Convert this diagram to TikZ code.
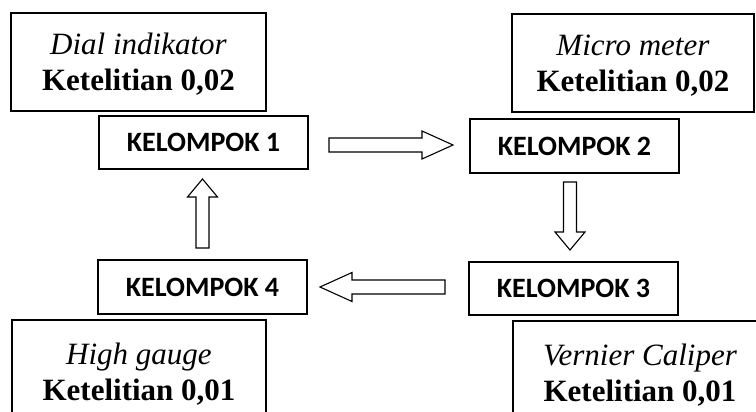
\documentclass[tikz,border=0pt]{standalone}
\usepackage{fontspec}
\setmainfont{Liberation Serif}
\newfontfamily\calib{Carlito}
\begin{document}
\begin{tikzpicture}[x=1pt,y=-1pt,
  toolbox/.style={draw, line width=1.3pt, inner sep=0pt},
  tooltext/.style={inner sep=0pt, align=center, font=\fontsize{31}{36}\selectfont},
  groupbox/.style={draw, line width=1.3pt, inner sep=0pt, minimum width=209pt,
    minimum height=53pt, font=\calib\bfseries\fontsize{28}{30}\selectfont},
  ar/.style={draw, line width=1.1pt, fill=white, line join=miter}]
\useasboundingbox (0,0) rectangle (756,412);
\clip (0,0) rectangle (756,412);

\node[toolbox, minimum width=255pt, minimum height=98pt] (dial) at (138.5,62) {};
\node[tooltext] (dialt) at (138.5,64) {\textit{Dial indikator}\\\textbf{Ketelitian 0,02}};
\node[toolbox, minimum width=242pt, minimum height=98pt] (micro) at (633,63) {};
\node[tooltext] (microt) at (633,65.5) {\textit{Micro meter}\\\textbf{Ketelitian 0,02}};
\node[toolbox, minimum width=254pt, minimum height=100pt] (high) at (139,370) {};
\node[tooltext] (hight) at (139,374.5) {\textit{High gauge}\\\textbf{Ketelitian 0,01}};
\node[toolbox, minimum width=254pt, minimum height=100pt] (vern) at (640,371) {};
\node[tooltext] (vernt) at (640,375) {\textit{Vernier Caliper}\\\textbf{Ketelitian 0,01}};

\node[groupbox] (k1) at (203.5,142.5) {KELOMPOK 1};
\node[groupbox, minimum height=54pt] (k2) at (574.5,146) {KELOMPOK 2};
\node[groupbox] (k3) at (573.5,288.5) {KELOMPOK 3};
\node[groupbox, minimum height=54pt] (k4) at (202.5,287) {KELOMPOK 4};

\coordinate (a1s) at (329,145);   \coordinate (a1t) at (453,145);
\coordinate (a2s) at (570,182);   \coordinate (a2t) at (570,250);
\coordinate (a3s) at (445,287);   \coordinate (a3t) at (320,287);
\coordinate (a4s) at (202.5,248); \coordinate (a4t) at (202.5,179);

\path[ar] (a1s) ++(0,-7) -- ++(93,0) -- ++(0,-7) -- (a1t) -- ++(-31,14) -- ++(0,-7) -- ++(-93,0) -- cycle;
\path[ar] (a2s) ++(-6.5,0) -- ++(0,50) -- ++(-8.5,0) -- (a2t) -- ++(15,-18) -- ++(-8.5,0) -- ++(0,-50) -- cycle;
\path[ar] (a3s) ++(0,-7) -- ++(-93,0) -- ++(0,-7.5) -- (a3t) -- ++(32,14.5) -- ++(0,-7.5) -- ++(93,0) -- cycle;
\path[ar] (a4s) ++(-6.5,0) -- ++(0,-51) -- ++(-8.5,0) -- (a4t) -- ++(15,18) -- ++(-8.5,0) -- ++(0,51) -- cycle;
\end{tikzpicture}
\end{document}
